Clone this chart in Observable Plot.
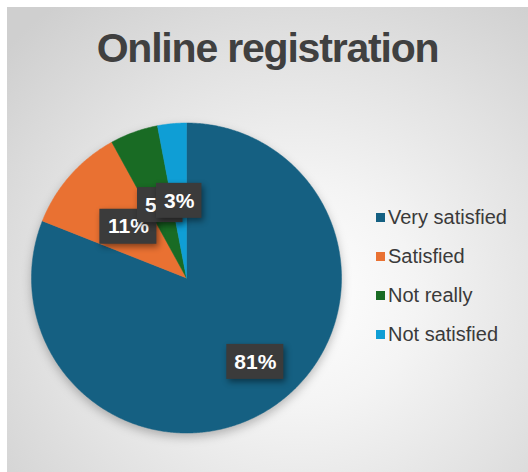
<!DOCTYPE html>
<html>
<head>
<meta charset="utf-8">
<script src="https://cdn.jsdelivr.net/npm/d3@7"></script>
<script src="https://cdn.jsdelivr.net/npm/@observablehq/plot@0.6"></script>
<style>
  html, body { margin: 0; padding: 0; background: #ffffff; }
  #wrap {
    position: absolute; left: 7px; top: 7px; width: 521px; height: 465px; overflow: hidden;
    background: radial-gradient(ellipse 75% 80% at 56% 62%, #ffffff 0%, #f4f4f4 30%, #e2e2e2 65%, #cfcfcf 100%);
    font-family: "Liberation Sans", Arial, sans-serif;
  }
  #title {
    position: absolute; left: 0; top: 21px; width: 100%; text-align: center;
    font-size: 41px; line-height: 41px; font-weight: bold; color: #404040; letter-spacing: -1.2px;
  }
  #legend { position: absolute; left: 369px; top: 191px; }
  .row { display: flex; align-items: center; height: 39px; font-size: 20px; color: #3a3a3a; }
  .sw { width: 9px; height: 9px; margin-right: 3px; }
  #chart { position: absolute; left: 0; top: 0; }
</style>
</head>
<body>
<div id="wrap">
  <div id="chart"></div>
  <div id="title">Online registration</div>
  <div id="legend"></div>
</div>
<script>
const categories = ["Very satisfied", "Satisfied", "Not really", "Not satisfied"];
const values = [81, 11, 5, 3];
const labels = ["81%", "11%", "5%", "3%"];
const colors = ["#156082", "#E97132", "#196B24", "#0F9ED5"];

const R_PX = 155;
const total = d3.sum(values);
let acc = 0;
const slices = values.map((v, i) => {
  const a0 = acc / total * 2 * Math.PI;
  acc += v;
  const a1 = acc / total * 2 * Math.PI;
  return {cat: categories[i], label: labels[i], a0, a1, v};
});

// polygon outline of each slice (unit circle, clockwise from 12 o'clock)
const pts = [];
for (const s of slices) {
  pts.push({cat: s.cat, x: 0, y: 0});
  const n = Math.max(2, Math.ceil((s.a1 - s.a0) / (Math.PI / 360)));
  for (let k = 0; k <= n; k++) {
    const a = s.a0 + (s.a1 - s.a0) * k / n;
    pts.push({cat: s.cat, x: Math.sin(a), y: Math.cos(a)});
  }
  pts.push({cat: s.cat, x: 0, y: 0});
}

// label anchors
const maxV = d3.max(values);
const lab = slices.map(s => {
  const m = (s.a0 + s.a1) / 2 - (s.v === maxV ? 0.09 : 0);
  const r = s.v === maxV ? 0.7 : 0.5;
  const tw = (s.label.length - 1) * 11.5 + 18;
  const hw = (tw + 16) / 2 / R_PX;
  const hh = 17.5 / R_PX;
  const lx = r * Math.sin(m), ly = r * Math.cos(m);
  return {...s, lx, ly, x1: lx - hw, x2: lx + hw, y1: ly - hh, y2: ly + hh};
});

const labelMarks = [];
for (const d of lab) {
  labelMarks.push(Plot.rect([d], {x1: "x1", x2: "x2", y1: "y1", y2: "y2", fill: "#3b3b3b"}));
  labelMarks.push(Plot.text([d], {x: "lx", y: "ly", text: "label", fill: "white", fontSize: 21, fontWeight: "bold"}));
}

const W = 521, H = 465;
const cx = 179, cy = 270.5;
const plot = Plot.plot({
  width: W, height: H,
  marginLeft: cx - R_PX, marginRight: W - cx - R_PX,
  marginTop: cy - R_PX, marginBottom: H - cy - R_PX,
  x: {domain: [-1, 1], axis: null},
  y: {domain: [-1, 1], axis: null},
  color: {domain: categories, range: colors},
  style: {background: "transparent", fontFamily: "'Liberation Sans', Arial, sans-serif", overflow: "visible"},
  marks: [
    Plot.line(pts, {x: "x", y: "y", z: "cat", fill: "cat", stroke: "cat", strokeWidth: 0.5, curve: "linear"}),
    ...labelMarks
  ]
});
document.getElementById("chart").appendChild(plot);

plot.querySelectorAll('g[aria-label="line"]').forEach(g => g.style.filter = "drop-shadow(0px 4px 5px rgba(0,0,0,0.25))");
plot.querySelectorAll('g[aria-label="rect"]').forEach(g => g.style.filter = "drop-shadow(2px 3px 3px rgba(0,0,0,0.45))");

const leg = document.getElementById("legend");
categories.forEach((c, i) => {
  const row = document.createElement("div");
  row.className = "row";
  const sw = document.createElement("span");
  sw.className = "sw";
  sw.style.background = colors[i];
  const t = document.createElement("span");
  t.textContent = c;
  row.appendChild(sw); row.appendChild(t);
  leg.appendChild(row);
});
</script>
</body>
</html>
